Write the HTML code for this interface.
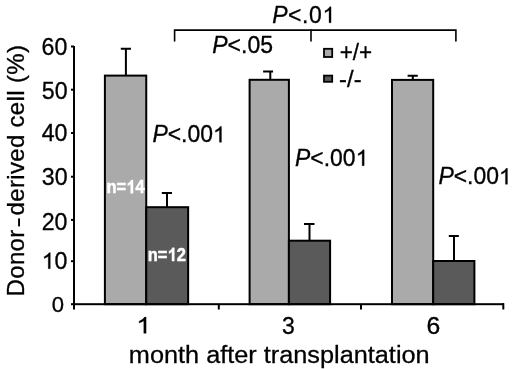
<!DOCTYPE html>
<html><head><meta charset="utf-8">
<style>
html,body{margin:0;padding:0;background:#fff;width:520px;height:369px;overflow:hidden}
svg{display:block;will-change:transform}
text{font-family:"Liberation Sans",sans-serif;fill:#000;font-kerning:none}
</style></head><body>
<svg width="520" height="369" viewBox="0 0 520 369">

<g stroke="#000" stroke-width="2">
<rect x="104.9" y="75.6" width="41.35" height="228.60" fill="#aaaaaa"/>
<rect x="146.25" y="207.2" width="41.90" height="97.00" fill="#5a5a5a"/>
<rect x="249.6" y="79.8" width="39.30" height="224.40" fill="#aaaaaa"/>
<rect x="288.9" y="240.7" width="41.20" height="63.50" fill="#5a5a5a"/>
<rect x="392.0" y="79.9" width="41.20" height="224.30" fill="#aaaaaa"/>
<rect x="433.2" y="261.0" width="41.20" height="43.20" fill="#5a5a5a"/>
</g>
<g stroke="#000" stroke-width="2" fill="none">
<path d="M125.9 75.6V48.85M120.8 48.85H131.0"/>
<path d="M167.0 207.2V193.0M161.8 193.0H172.0"/>
<path d="M270.3 79.8V71.6M263.1 71.6H273.1"/>
<path d="M309.5 240.7V224.0M304.0 224.0H314.5"/>
<path d="M412.8 79.9V75.7M407.6 75.7H417.8"/>
<path d="M454.0 261.0V236.1M448.8 236.1H458.8"/>
</g>
<g fill="#000">
<rect x="73" y="46" width="2" height="259"/>
<rect x="73" y="303.2" width="431" height="2"/>
<rect x="71" y="45.5" width="3" height="2"/>
<rect x="71" y="88.7" width="3" height="2"/>
<rect x="71" y="132" width="3" height="2"/>
<rect x="71" y="175.7" width="3" height="2"/>
<rect x="71" y="218.9" width="3" height="2"/>
<rect x="71" y="260.2" width="3" height="2"/>
<rect x="71" y="303.2" width="3" height="2"/>
<rect x="73" y="304" width="2" height="5.5"/>
<rect x="217.8" y="304" width="2" height="5.5"/>
<rect x="360" y="304" width="2" height="5.5"/>
<rect x="502.3" y="303.2" width="2" height="6.3"/>
</g>
<g stroke="#000" stroke-width="1.6" fill="none" stroke-linecap="round">
<path d="M174.6 41V30.15H455.9V41"/>
<path d="M311.0 30.15V41"/>
</g>
<rect x="324" y="48.8" width="8.2" height="8.2" fill="#aaaaaa" stroke="#000" stroke-width="1.8"/>
<rect x="324" y="75.6" width="8.2" height="6.2" fill="#5a5a5a" stroke="#000" stroke-width="1.8"/>
<g transform="translate(67.359,54.722) scale(1.0300,1.0350)"><text x="-25.03" y="0" font-size="22.5" style="fill:#000;stroke:#000;stroke-width:0.3">60</text></g>
<g transform="translate(67.541,98.718) scale(1.0300,1.0350)"><text x="-25.03" y="0" font-size="22.5" style="fill:#000;stroke:#000;stroke-width:0.3">50</text></g>
<g transform="translate(67.492,140.508) scale(1.0300,1.0350)"><text x="-25.03" y="0" font-size="22.5" style="fill:#000;stroke:#000;stroke-width:0.3">40</text></g>
<g transform="translate(67.535,184.585) scale(1.0300,1.0350)"><text x="-25.03" y="0" font-size="22.5" style="fill:#000;stroke:#000;stroke-width:0.3">30</text></g>
<g transform="translate(67.488,229.729) scale(1.0300,1.0350)"><text x="-25.03" y="0" font-size="22.5" style="fill:#000;stroke:#000;stroke-width:0.3">20</text></g>
<g transform="translate(67.438,268.681) scale(1.0300,1.0350)"><text x="-25.03" y="0" font-size="22.5" style="fill:#000;stroke:#000;stroke-width:0.3"><tspan style="fill:none;stroke:none">1</tspan>0</text><path d="M763 0L583 0L583 1147Q518 1085 415 1024.5Q312 964 223 931L223 1105Q374 1176 487 1277Q600 1378 647 1472L763 1472Z" transform="translate(-25.03,0) scale(0.010986,-0.010516)" fill="#000" stroke="#000" stroke-width="27.3"/></g>
<g transform="translate(63.890,311.576) scale(0.9800,0.9900)"><text x="-12.51" y="0" font-size="22.5" style="fill:#000;stroke:#000;stroke-width:0.3">0</text></g>
<g transform="translate(136.231,333.349) scale(1.1800,1.0500)"><text x="0.00" y="0" font-size="22.5" style="fill:#000;stroke:#000;stroke-width:0.3"><tspan style="fill:none;stroke:none">1</tspan></text><path d="M763 0L583 0L583 1147Q518 1085 415 1024.5Q312 964 223 931L223 1105Q374 1176 487 1277Q600 1378 647 1472L763 1472Z" transform="translate(0.00,0) scale(0.010986,-0.010516)" fill="#000" stroke="#000" stroke-width="27.3"/></g>
<g transform="translate(282.085,333.610) scale(1.0200,1.0500)"><text x="0.00" y="0" font-size="22.5" style="fill:#000;stroke:#000;stroke-width:0.3">3</text></g>
<g transform="translate(426.572,333.724) scale(1.1000,1.0500)"><text x="0.00" y="0" font-size="22.5" style="fill:#000;stroke:#000;stroke-width:0.3">6</text></g>
<g transform="translate(272.135,22.738) scale(1.0450,1.0550)"><text x="0.00" y="0" font-size="22" style="fill:#000;stroke:#000;stroke-width:0.3;letter-spacing:0.58px"><tspan font-style="italic">P</tspan>&lt;.0<tspan style="fill:none;stroke:none">1</tspan></text><path d="M763 0L583 0L583 1147Q518 1085 415 1024.5Q312 964 223 931L223 1105Q374 1176 487 1277Q600 1378 647 1472L763 1472Z" transform="translate(48.19,0) scale(0.010742,-0.010282)" fill="#000" stroke="#000" stroke-width="27.9"/></g>
<g transform="translate(212.248,52.617) scale(1.0450,1.0550)"><text x="0.00" y="0" font-size="22" style="fill:#000;stroke:#000;stroke-width:0.3"><tspan font-style="italic">P</tspan>&lt;.05</text></g>
<g transform="translate(152.382,142.350) scale(1.0420,1.0550)"><text x="0.00" y="0" font-size="22" style="fill:#000;stroke:#000;stroke-width:0.3"><tspan font-style="italic">P</tspan>&lt;.00<tspan style="fill:none;stroke:none">1</tspan></text><path d="M763 0L583 0L583 1147Q518 1085 415 1024.5Q312 964 223 931L223 1105Q374 1176 487 1277Q600 1378 647 1472L763 1472Z" transform="translate(58.10,0) scale(0.010742,-0.010282)" fill="#000" stroke="#000" stroke-width="27.9"/></g>
<g transform="translate(295.095,165.681) scale(1.0420,1.0550)"><text x="0.00" y="0" font-size="22" style="fill:#000;stroke:#000;stroke-width:0.3"><tspan font-style="italic">P</tspan>&lt;.00<tspan style="fill:none;stroke:none">1</tspan></text><path d="M763 0L583 0L583 1147Q518 1085 415 1024.5Q312 964 223 931L223 1105Q374 1176 487 1277Q600 1378 647 1472L763 1472Z" transform="translate(58.10,0) scale(0.010742,-0.010282)" fill="#000" stroke="#000" stroke-width="27.9"/></g>
<g transform="translate(438.387,184.316) scale(1.0420,1.0550)"><text x="0.00" y="0" font-size="22" style="fill:#000;stroke:#000;stroke-width:0.3"><tspan font-style="italic">P</tspan>&lt;.00<tspan style="fill:none;stroke:none">1</tspan></text><path d="M763 0L583 0L583 1147Q518 1085 415 1024.5Q312 964 223 931L223 1105Q374 1176 487 1277Q600 1378 647 1472L763 1472Z" transform="translate(58.10,0) scale(0.010742,-0.010282)" fill="#000" stroke="#000" stroke-width="27.9"/></g>
<g transform="translate(339.654,59.581) scale(0.9770,1.0000)"><text x="0.00" y="0" font-size="23" style="fill:#000;stroke:#000;stroke-width:0.3">+/+</text></g>
<g transform="translate(339.113,86.575) scale(1.0350,1.0000)"><text x="0.00" y="0" font-size="23" style="fill:#000;stroke:#000;stroke-width:0.3">-/-</text></g>
<g transform="translate(106.547,193.324) scale(0.9150,1.0700)"><text x="0.00" y="0" font-size="18" font-weight="bold" style="fill:#fff;stroke:#fff;stroke-width:0.5">n=<tspan style="fill:none;stroke:none">1</tspan>4</text><path d="M842 0L561 0L561 1059Q407 915 198 846L198 1101Q308 1137 437 1238Q566 1339 614 1472L842 1472Z" transform="translate(21.51,0) scale(0.008789,-0.008413)" fill="#fff" stroke="#fff" stroke-width="56.9"/></g>
<g transform="translate(147.798,261.082) scale(0.9150,1.0700)"><text x="0.00" y="0" font-size="18" font-weight="bold" style="fill:#fff;stroke:#fff;stroke-width:0.5">n=<tspan style="fill:none;stroke:none">1</tspan>2</text><path d="M842 0L561 0L561 1059Q407 915 198 846L198 1101Q308 1137 437 1238Q566 1339 614 1472L842 1472Z" transform="translate(21.51,0) scale(0.008789,-0.008413)" fill="#fff" stroke="#fff" stroke-width="56.9"/></g>
<g transform="translate(128.862,362.684) scale(1.0000,0.9750)"><text x="0.00" y="0" font-size="25.3" style="fill:#000;stroke:#000;stroke-width:0.3">month after transplantation</text></g>
<text transform="translate(24.2,296.5) rotate(-90)" y="0" font-size="24" style="letter-spacing:0.35px;stroke:#000;stroke-width:0.30px"><tspan x="0.00">Donor</tspan><tspan style="fill:none;stroke:none">-</tspan><tspan x="81.00">derived</tspan><tspan x="169.00">cell</tspan><tspan x="213.50">(%)</tspan></text><rect x="18.1" y="218.4" width="1.9" height="8" fill="#000"/>
</svg>
</body></html>
